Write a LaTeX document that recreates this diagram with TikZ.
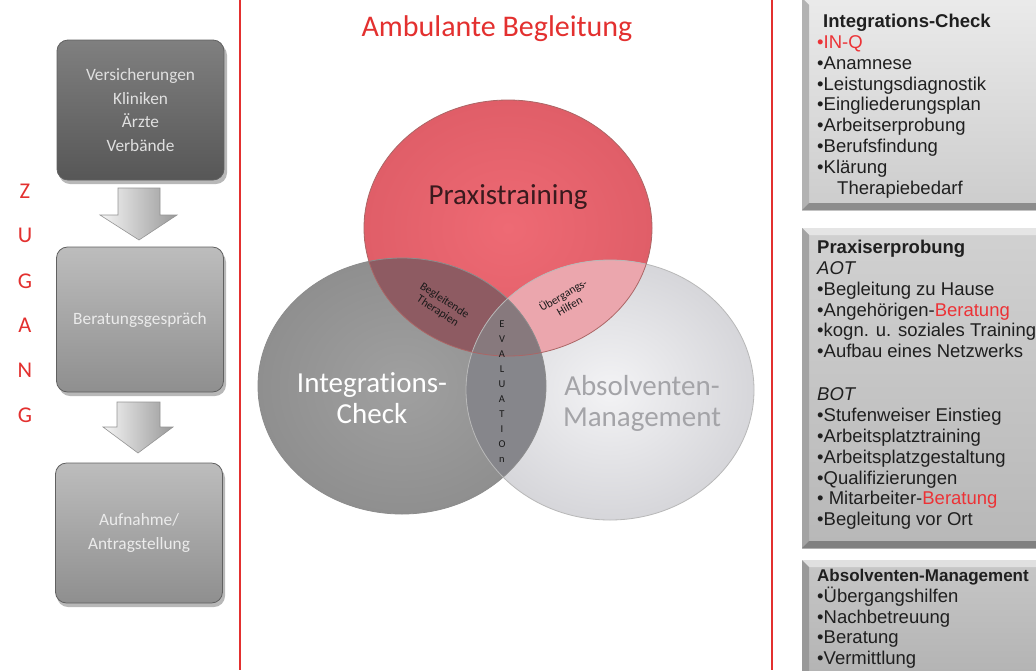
\documentclass[tikz,border=0pt]{standalone}
\usepackage{fontspec}
\setmainfont{Carlito}[Ligatures={NoCommon}]
\newfontfamily\arialf{Liberation Sans}
\usetikzlibrary{shapes.geometric}
\definecolor{zred}{HTML}{E3302F}
\definecolor{inq}{HTML}{EC3236}
\definecolor{vredin}{HTML}{EE6A74}
\definecolor{vredout}{HTML}{E05E68}
\definecolor{vgin}{HTML}{A0A0A0}
\definecolor{vgout}{HTML}{8F8F8F}
\definecolor{vlin}{HTML}{F3F3F5}
\definecolor{vlout}{HTML}{D6D6DA}
\definecolor{rg}{HTML}{8E5B62}
\definecolor{rl}{HTML}{EBA6AD}
\definecolor{gl}{HTML}{86868B}
\definecolor{rgl}{HTML}{87797D}
\definecolor{ptext}{HTML}{3A1A1E}
\definecolor{amtext}{HTML}{A4A4A8}
\begin{document}
\begin{tikzpicture}[x=1pt,y=-1pt,
  lbox/.style={rounded corners=11pt, minimum width=167pt, inner sep=0pt, draw=black!62, line width=0.8pt, align=center, font=\fontsize{17.3}{23.5}\selectfont},
  barrow/.style={left color=white!96!black, right color=black!40, draw=black!42, line width=0.6pt},
  zug/.style={text=zred, font=\fontsize{22.5}{22.5}\selectfont},
  vlab/.style={font=\fontsize{29}{31}\selectfont, align=center},
  small/.style={font=\fontsize{11.5}{12.5}\selectfont, text=black!90, align=center, inner sep=0pt},
  ring/.style={ellipse, inner sep=0pt, line width=0.8pt},
  rtext/.style={font=\arialf\fontsize{18.5}{20.8}\selectfont, align=left, anchor=north west, inner sep=0pt, text=black!88},
  shadowbox/.style={fill=black, opacity=0.28, rounded corners=11pt}
]
\useasboundingbox (0,0) rectangle (1036,670);
\fill[white] (0,0) rectangle (1036,670);

% separators
\draw[zred, line width=1.2pt] (240,0) -- (240,670);
\draw[zred, line width=1.2pt] (772,0) -- (772,670);

% ---------- left column ----------
\fill[shadowbox] (59,44) rectangle (227,184);
\fill[shadowbox] (59,251) rectangle (226,396);
\fill[shadowbox] (57,467) rectangle (225,607);
\node[lbox, minimum height=140pt, top color=black!50, bottom color=black!66, text=white!88!black] (b1) at (140.5,110) {Versicherungen\\Kliniken\\Ärzte\\Verbände};
\node[lbox, minimum height=145pt, top color=black!26, bottom color=black!44, text=white!92!black] (b2) at (140,319.5) {Beratungsgespräch};
\node[lbox, minimum height=140pt, top color=black!26, bottom color=black!44, text=white!92!black] (b3) at (139,533) {Aufnahme/\\Antragstellung};

\path[barrow] (118,188) -- (160,188) -- (160,215) -- (177,215) -- (139,240) -- (100,215) -- (118,215) -- cycle;
\path[barrow] (117,402) -- (160,402) -- (160,427) -- (173,427) -- (138,453) -- (103,427) -- (117,427) -- cycle;

\node[zug] (z1) at (25,191) {Z};
\node[zug] (z2) at (25,235) {U};
\node[zug] (z3) at (25,281) {G};
\node[zug] (z4) at (25,325) {A};
\node[zug] (z5) at (25,370) {N};
\node[zug] (z6) at (25,415) {G};

% ---------- centre ----------
\node[text=zred, font=\fontsize{30}{30}\selectfont] (title) at (497,29) {Ambulante Begleitung};

\def\vPr{(508,228) ellipse [x radius=144pt, y radius=128pt]}
\def\vIc{(402,386) ellipse [x radius=144pt, y radius=128pt]}
\def\vAm{(610,390) ellipse [x radius=144pt, y radius=130pt]}
\shade[inner color=vredin, outer color=vredout] \vPr;
\shade[inner color=vgin, outer color=vgout] \vIc;
\shade[inner color=vlin, outer color=vlout] \vAm;
\begin{scope}
  \clip \vPr;
  \fill[rg] \vIc;
  \fill[rl] \vAm;
\end{scope}
\begin{scope}
  \clip \vIc;
  \fill[gl] \vAm;
  \begin{scope}
    \clip \vPr;
    \fill[rgl] \vAm;
  \end{scope}
\end{scope}
\node[ring, draw=black!45, minimum width=288pt, minimum height=256pt] (cic) at (402,386) {};
\node[ring, draw=black!28, minimum width=288pt, minimum height=260pt] (cam) at (610,390) {};
\node[ring, draw=red!45!black!60, minimum width=288pt, minimum height=256pt] (cpr) at (508,228) {};

\node[vlab, text=ptext] (lpr) at (508,197) {Praxistraining};
\node[vlab, text=white] (lic) at (372,398) {Integrations-\\Check};
\node[vlab, text=amtext] (lam) at (642,403) {Absolventen-\\Management};

\node[small, rotate=-33] (bt) at (441,306) {Begleitende\\Therapien};
\node[small, rotate=30] (uh) at (566,300) {Übergangs-\\Hilfen};
\node[font=\fontsize{10.5}{15}\selectfont, align=center, text=black!90, inner sep=0pt] (ev) at (502,392) {E\\V\\A\\L\\U\\A\\T\\I\\O\\n};

% ---------- right column ----------
\shade[top color=white!92!black, bottom color=white!80!black] (802,-2) rectangle (1040,210);
\fill[white!70!black] (802,-2) -- (809,5) -- (809,203) -- (802,210) -- cycle;
\fill[white!55!black] (802,210) -- (809,203) -- (1040,203) -- (1040,210) -- cycle;

\shade[top color=white!82!black, bottom color=white!72!black] (802,228) rectangle (1040,548);
\fill[white!90!black] (802,228) -- (1040,228) -- (1040,235) -- (809,235) -- cycle;
\fill[white!64!black] (802,228) -- (809,235) -- (809,541) -- (802,548) -- cycle;
\fill[white!50!black] (802,548) -- (809,541) -- (1040,541) -- (1040,548) -- cycle;

\shade[top color=white!78!black, bottom color=white!70!black] (802,560) rectangle (1040,680);
\fill[white!88!black] (802,560) -- (1040,560) -- (1040,567) -- (809,567) -- cycle;
\fill[white!60!black] (802,560) -- (809,567) -- (809,680) -- (802,680) -- cycle;

\node[rtext] (r1) at (817,14) {{\bfseries\hspace{6pt}Integrations-Check}\\
\textcolor{inq}{•IN-Q}\\
•Anamnese\\
•Leistungsdiagnostik\\
•Eingliederungsplan\\
•Arbeitserprobung\\
•Berufsfindung\\
•Klärung\\
\hspace{20pt}Therapiebedarf};

\node[rtext] (r2) at (817,240) {{\bfseries Praxiserprobung}\\
\textit{AOT}\\
•Begleitung zu Hause\\
•Angehörigen-\textcolor{inq}{Beratung}\\
•kogn. u. soziales Training\\
•Aufbau eines Netzwerks\\[22.5pt]
\textit{BOT}\\
•Stufenweiser Einstieg\\
•Arbeitsplatztraining\\
•Arbeitsplatzgestaltung\\
•Qualifizierungen\\
• Mitarbeiter-\textcolor{inq}{Beratung}\\
•Begleitung vor Ort};

\node[rtext] (r3) at (817,569) {{\bfseries\fontsize{17}{20.8}\selectfont Absolventen-Management}\\
•Übergangshilfen\\
•Nachbetreuung\\
•Beratung\\
•Vermittlung};
\end{tikzpicture}
\end{document}
